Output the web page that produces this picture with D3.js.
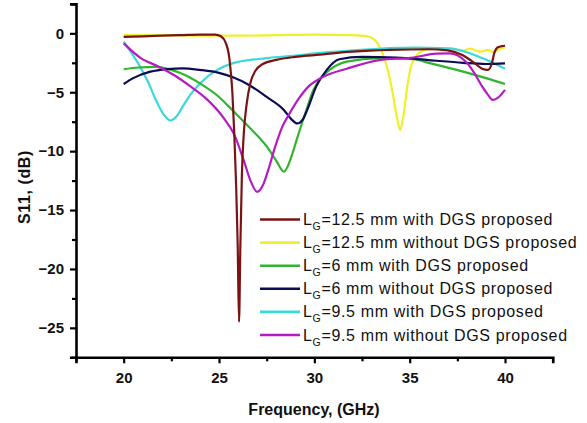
<!DOCTYPE html>
<html>
<head>
<meta charset="utf-8">
<script src="https://cdn.jsdelivr.net/npm/d3@7"></script>
<style>
  body { margin: 0; background: #fff; }
  svg { display: block; font-family: "Liberation Sans", Arial, sans-serif; }
</style>
</head>
<body>
<div id="chart"></div>
<script>
// S11 curves as [frequency GHz, dB]
const brown = [[20,-0.3],[21,-0.25],[22,-0.2],[23,-0.15],[24,-0.1],[24.8,-0.1],[25.1,-0.25],[25.35,-0.8],[25.55,-2.2],[25.7,-5],[25.8,-8.5],[25.9,-13],[25.98,-18],[26.05,-24.5],[26.12,-18],[26.2,-12],[26.3,-8.5],[26.45,-6],[26.65,-4.2],[26.9,-3.2],[27.3,-2.6],[28,-2.25],[29,-2.0],[30,-1.85],[32,-1.55],[34,-1.4],[36,-1.35],[37,-1.45],[37.7,-1.8],[38.3,-2.4],[38.8,-3.0],[39.1,-3.1],[39.3,-2.6],[39.45,-1.6],[39.6,-1.2],[39.8,-1.1],[40,-1.05]];
const yellow = [[20,-0.15],[22,-0.15],[24,-0.2],[26,-0.2],[28,-0.15],[30,-0.1],[32,-0.15],[32.8,-0.25],[33.2,-0.6],[33.5,-1.4],[33.8,-2.8],[34.1,-5.0],[34.35,-7.3],[34.5,-8.2],[34.65,-7.2],[34.85,-4.8],[35.05,-2.9],[35.3,-2.0],[35.7,-1.45],[36.2,-1.3],[36.7,-1.45],[37.2,-1.3],[37.7,-1.5],[38.2,-1.3],[38.7,-1.55],[39.1,-1.4],[39.4,-1.6],[39.7,-1.35],[40,-1.2]];
const green = [[20,-3.05],[20.8,-2.9],[21.7,-2.85],[22.5,-3.1],[23.3,-3.6],[24,-4.25],[25,-5.4],[25.75,-6.6],[26.6,-8.0],[27.5,-9.6],[28,-10.8],[28.4,-11.75],[28.6,-11.3],[28.85,-10.2],[29.1,-8.9],[29.6,-6.4],[29.95,-4.8],[30.4,-3.7],[30.8,-3.1],[31.7,-2.4],[33.4,-2.1],[35.2,-2.2],[36.1,-2.55],[37.8,-3.25],[39,-3.8],[40,-4.3]];
const navy = [[20,-4.3],[20.5,-3.8],[21.4,-3.25],[22.3,-3.03],[23.1,-2.97],[24,-3.1],[25,-3.35],[25.7,-3.7],[26.6,-4.4],[27.5,-5.4],[28.4,-6.5],[28.8,-7.3],[29.1,-7.65],[29.4,-7.3],[29.6,-6.6],[30.1,-4.5],[30.65,-3.1],[31.3,-2.2],[32.5,-2.0],[34.3,-2.05],[36,-2.27],[37.8,-2.5],[39,-2.6],[40,-2.55]];
const cyan = [[20,-0.7],[20.3,-1.4],[20.85,-2.8],[21.3,-4.2],[21.7,-5.7],[22.1,-6.9],[22.45,-7.4],[22.8,-7.0],[23.1,-6.2],[23.5,-5.2],[24,-4.25],[24.9,-3.1],[25.7,-2.55],[27.5,-2.1],[29.25,-1.85],[30,-1.7],[32,-1.45],[35.2,-1.22],[37,-1.28],[38,-1.6],[38.8,-2.1],[40,-3.0]];
const magenta = [[20,-0.85],[20.9,-2.1],[21.8,-2.8],[22.7,-3.6],[23.5,-4.5],[24.3,-5.5],[25.25,-7.2],[25.8,-8.6],[26.3,-10.8],[26.65,-12.5],[27.0,-13.45],[27.3,-12.9],[27.6,-11.5],[27.95,-9.6],[28.3,-8.0],[28.7,-6.8],[29.2,-5.5],[29.7,-4.5],[30.45,-3.7],[31.7,-3.0],[33.4,-2.27],[35.2,-2.05],[36.4,-1.72],[37.1,-1.7],[37.5,-1.85],[38.0,-2.5],[38.4,-3.4],[38.8,-4.5],[39.1,-5.2],[39.35,-5.65],[39.6,-5.5],[40,-4.8]];

// legend order, label text after the subscript
const legendSub = ["=12.5 mm with DGS proposed", "=12.5 mm without DGS proposed", "=6 mm with DGS proposed",
                   "=6 mm without DGS proposed", "=9.5 mm with DGS proposed", "=9.5 mm without DGS proposed"];
const seriesData = [brown, yellow, green, navy, cyan, magenta];
const colors = ["#7a1414", "#f0f02a", "#30b530", "#0c0c55", "#3dd8d8", "#b41cc2"];
const drawOrder = [1, 4, 2, 3, 5, 0]; // brown sits on top of yellow

const xTicks = [20, 25, 30, 35, 40];
const xMinor = [17.5, 22.5, 27.5, 32.5, 37.5, 42.5];
const yTicks = [0, -5, -10, -15, -20, -25];
const yMinor = [2.5, -2.5, -7.5, -12.5, -17.5, -22.5, -27.5];

const width = 587, height = 423;

const x = d3.scaleLinear().domain([17.5, 42.5]).range([76, 552.7]);
const y = d3.scaleLinear().domain([-27.5, 2.5]).range([357.3, 3.9]);

const svg = d3.select("#chart").append("svg")
    .attr("width", width)
    .attr("height", height);

// curves
const line = d3.line()
    .x(d => x(d[0]))
    .y(d => y(d[1]))
    .curve(d3.curveMonotoneX);

svg.append("g")
    .attr("fill", "none")
    .attr("stroke-width", 2.2)
    .attr("stroke-linejoin", "round")
  .selectAll()
  .data(drawOrder)
  .join("path")
    .attr("stroke", i => colors[i])
    .attr("d", i => line(seriesData[i]));

// axes
svg.append("g")
    .attr("transform", `translate(0,${y(-27.5)})`)
    .call(d3.axisBottom(x).tickValues(xTicks).tickSize(6).tickPadding(9).tickFormat(d3.format("d")));
svg.append("g")
    .attr("transform", `translate(0,${y(-27.5)})`)
    .call(d3.axisBottom(x).tickValues(xMinor).tickSize(4).tickFormat(""))
    .call(g => g.select(".domain").remove());

svg.append("g")
    .attr("transform", `translate(${x(17.5)},0)`)
    .call(d3.axisLeft(y).tickValues(yTicks).tickSize(6).tickPadding(6).tickFormat(d3.format("d")));
svg.append("g")
    .attr("transform", `translate(${x(17.5)},0)`)
    .call(d3.axisLeft(y).tickValues(yMinor).tickSize(4).tickFormat(""))
    .call(g => g.select(".domain").remove());

svg.selectAll(".domain").attr("stroke-width", 2.6).attr("stroke", "#000");
svg.selectAll(".tick line").attr("stroke-width", 2.2).attr("stroke", "#000");
svg.selectAll(".tick text")
    .attr("font-family", "'Liberation Sans', Arial, sans-serif")
    .attr("font-size", 15)
    .attr("font-weight", "bold")
    .attr("fill", "#111");

// axis titles
svg.append("text")
    .attr("x", 314)
    .attr("y", 415)
    .attr("text-anchor", "middle")
    .attr("font-size", 16)
    .attr("font-weight", "bold")
    .attr("fill", "#111")
    .text("Frequency, (GHz)");

svg.append("text")
    .attr("transform", "translate(30,187) rotate(-90)")
    .attr("text-anchor", "middle")
    .attr("font-size", 16)
    .attr("font-weight", "bold")
    .attr("letter-spacing", 0.6)
    .attr("fill", "#111")
    .text("S11, (dB)");

// legend
const legend = svg.append("g")
  .selectAll()
  .data(legendSub)
  .join("g")
    .attr("transform", (d, i) => `translate(260,${219.5 + i * 23.1})`);

legend.append("line")
    .attr("x1", 0).attr("x2", 40)
    .attr("stroke", (d, i) => colors[i])
    .attr("stroke-width", 2.6);

const lt = legend.append("text")
    .attr("x", 43)
    .attr("y", 5.5)
    .attr("font-size", 16)
    .attr("letter-spacing", 0.65)
    .attr("fill", "#111");
lt.append("tspan").text("L");
lt.append("tspan").attr("font-size", 10.5).attr("dy", 5).text("G");
lt.append("tspan").attr("dy", -5).text(d => d);
</script>
</body>
</html>
